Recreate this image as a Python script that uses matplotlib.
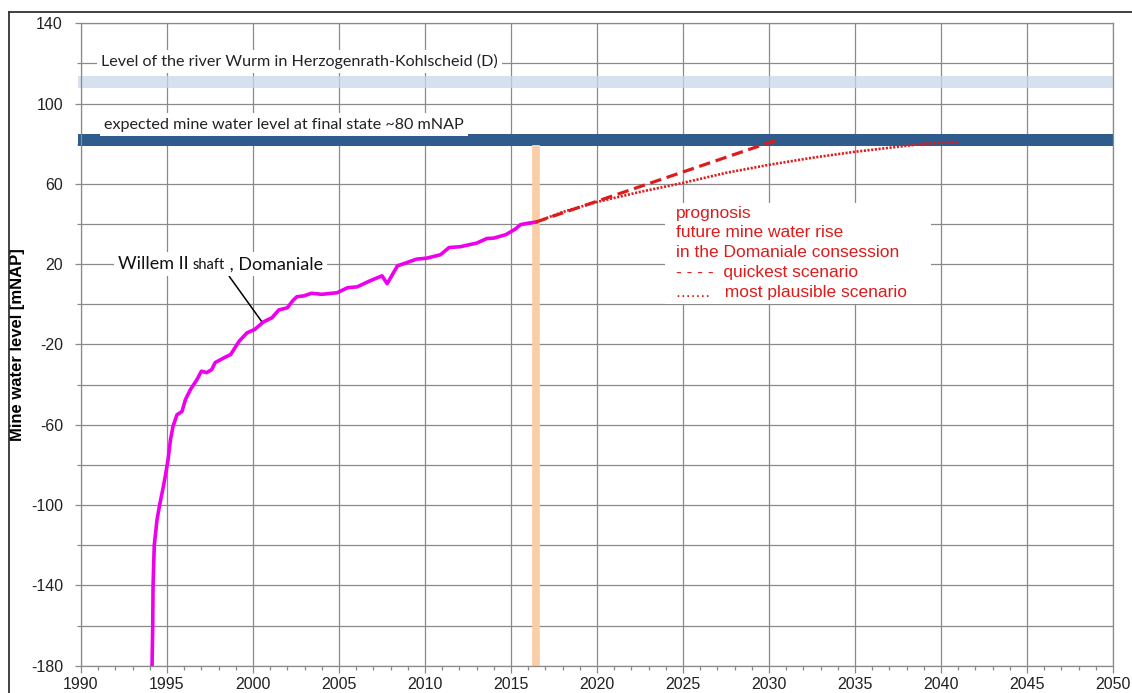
import numpy as np
import matplotlib
matplotlib.use('Agg')
import matplotlib.pyplot as plt
from matplotlib.ticker import FixedLocator, MultipleLocator
from matplotlib.offsetbox import TextArea, HPacker, AnnotationBbox
from matplotlib.patches import Rectangle
from matplotlib.lines import Line2D

plt.rcParams['font.family'] = ['Liberation Sans', 'DejaVu Sans']
plt.rcParams['axes.unicode_minus'] = False

# measured mine water level, Willem II shaft
years = [1994.13, 1994.17, 1994.19, 1994.26, 1994.42, 1994.57, 1994.75, 1994.9,
         1995.06, 1995.2, 1995.35, 1995.58, 1995.87, 1996.07, 1996.36, 1996.74,
         1997.0, 1997.3, 1997.6, 1997.8, 1998.3, 1998.7, 1999.2, 1999.65,
         2000.1, 2000.6, 2001.1, 2001.5, 2002.0, 2002.3, 2002.55, 2002.95,
         2003.4, 2004.0, 2004.9, 2005.5, 2006.05, 2006.8, 2007.5, 2007.8,
         2008.4, 2008.95, 2009.5, 2010.1, 2010.9, 2011.4, 2012.05, 2013.0,
         2013.6, 2014.0, 2014.7, 2015.25, 2015.55, 2016.05, 2016.45]
levels = [-180, -160.5, -140, -120, -107.3, -100, -92.4, -85.7,
          -77.4, -67.5, -60.8, -55, -53.4, -47.5, -42.5, -37.5,
          -33.3, -34, -32.5, -29, -26.7, -25, -18.3, -14.2,
          -12.5, -8.8, -6.7, -2.8, -1.7, 1.7, 3.8, 4.2,
          5.5, 5, 5.8, 8.3, 8.7, 11.7, 14.2, 10.3,
          19.2, 20.8, 22.5, 23, 24.7, 28.3, 28.7, 30.5,
          32.8, 33, 34.7, 37.5, 39.7, 40.5, 41]

# prognosis
quick_years = [2016.45, 2030.5]
quick_levels = [41, 82]
plaus_years = [2016.45, 2018, 2020, 2022.5, 2025, 2027.5, 2030, 2032.5, 2035, 2037.5, 2039, 2041.06]
plaus_levels = [41, 46, 51, 56, 60.5, 65.5, 69.5, 73, 76, 78.5, 80, 81]

today = 2016.48
river_band = (108, 113.5)
final_band = (79, 85)

x_ticks = list(range(1990, 2051, 5))
y_ticks = [-180, -140, -100, -60, -20, 20, 60, 100, 140]
y_grid = list(range(-180, 141, 20))

calib = 'Lato'

fig = plt.figure(figsize=(11.32, 6.93), dpi=100)
ax = fig.add_axes([0.07155, 0.0394, 0.9117, 0.927])

ax.set_xlim(1990, 2050)
ax.set_ylim(-180, 140)
ax.xaxis.set_major_locator(FixedLocator(x_ticks))
ax.xaxis.set_minor_locator(MultipleLocator(1))
ax.yaxis.set_major_locator(FixedLocator(y_ticks))
ax.yaxis.set_minor_locator(FixedLocator([v for v in y_grid if v not in y_ticks]))
ax.grid(which='major', color='#8a8a8a', lw=0.9, zorder=0)
ax.grid(which='minor', axis='y', color='#8a8a8a', lw=0.9, zorder=0)
ax.set_axisbelow(True)
for s in ax.spines.values():
    s.set_color('#8a8a8a')
    s.set_linewidth(0.9)
ax.tick_params(which='both', direction='out', color='#8a8a8a', width=0.9)
ax.tick_params(which='major', length=5, labelsize=11.5, labelcolor='#222222')
ax.tick_params(which='minor', length=3)
ax.tick_params(axis='x', which='major', pad=3)
ax.tick_params(axis='y', which='major', pad=9, length=4)

ax.set_ylabel('Mine water level [mNAP]', fontsize=12, fontweight='bold', labelpad=4)

# bands
rb = ax.axhspan(*river_band, xmin=-0.003, color='#c9d8ea', alpha=0.75, lw=0, zorder=1)
rb.set_clip_on(False)
fb = ax.axhspan(*final_band, xmin=-0.003, color='#2f5b8d', lw=0, zorder=2)
fb.set_clip_on(False)

# today marker
ax.vlines(today, -180, 79.4, color='#f9cda6', lw=5.5, zorder=2, capstyle='butt')

# curves
ax.plot(years, levels, color='#ee00ee', lw=2.6, zorder=4, solid_joinstyle='round')
ax.plot(quick_years, quick_levels, color='#dd1c1c', lw=2.3, ls=(0, (3.6, 1.8)), zorder=5)
ax.plot(plaus_years, plaus_levels, color='#dd1c1c', lw=1.9, ls=(0, (0.8, 0.6)), zorder=5)

# labels
box = dict(facecolor='white', edgecolor='none', pad=3)
ax.text(1991.15, 121, 'Level of the river Wurm in Herzogenrath-Kohlscheid (D)',
        family=calib, fontsize=11.6, color='#222222', va='center', ha='left',
        bbox=box, zorder=3)
ax.text(1991.35, 89.5, 'expected mine water level at final state ~80 mNAP',
        family=calib, fontsize=11.6, color='#222222', va='center', ha='left',
        bbox=box, zorder=3)

ax.add_patch(Rectangle((2023.95, 0), 15.45, 50.5, facecolor='white',
                       edgecolor='none', zorder=3))
ax.text(2024.6, 49.2, 'prognosis\nfuture mine water rise\nin the Domaniale consession\n'
        '- - - -  quickest scenario\n.......   most plausible scenario',
        fontsize=12.5, color='#dd1c1c', va='top', ha='left',
        linespacing=1.4, zorder=6)

parts = HPacker(children=[
    TextArea('Willem II ', textprops=dict(family=calib, size=13, color='#111111')),
    TextArea('shaft', textprops=dict(family=calib, size=10.5, color='#111111')),
    TextArea(' , Domaniale', textprops=dict(family=calib, size=13, color='#111111')),
], align='baseline', pad=0, sep=0)
ab = AnnotationBbox(parts, (2000.5, -8.5), xybox=(1998.11, 20), xycoords='data',
                    boxcoords='data', frameon=True, pad=0.3,
                    bboxprops=dict(facecolor='white', edgecolor='none'),
                    arrowprops=dict(arrowstyle='-', color='black', lw=1.1,
                                    shrinkA=0, shrinkB=0))
ab.set_zorder(3)
ax.add_artist(ab)

# outer chart frame
fig.add_artist(Line2D([9 / 1132, 9 / 1132], [0, 1 - 12 / 693], color='#333333', lw=1.3))
fig.add_artist(Line2D([9 / 1132, 1], [1 - 12 / 693, 1 - 12 / 693], color='#333333', lw=1.3))

fig.savefig('out.png', dpi=100)
